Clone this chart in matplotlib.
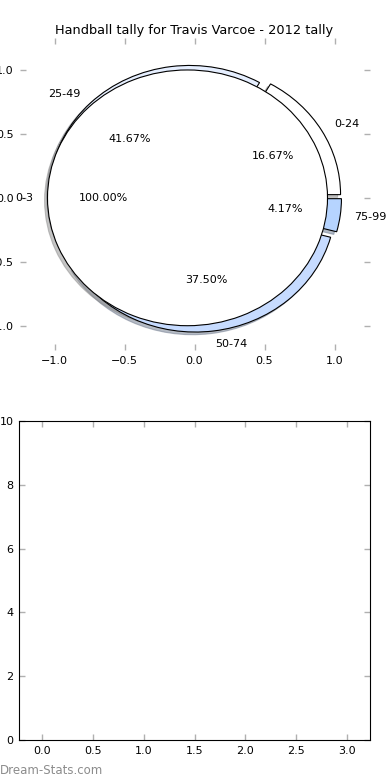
#!/usr/bin/env python3
"""
Handball tally chart (pie + empty bar panel)
"""

import matplotlib
matplotlib.use('Agg')  # Non-interactive backend
import matplotlib.pyplot as plt

# Daten
TITLE = "Handball tally for Travis Varcoe - 2012 tally"
RANGES = ['0-24', '25-49', '50-74', '75-99']
TALLY = [4, 10, 9, 1]
RANGE_COLORS = ['#ffffff', '#e6efff', '#c6dbff', '#b6d4ff']

INNER_LABELS = ['0-3']
INNER_TALLY = [1]
INNER_COLORS = ['#ffffff']

PIE_TICKS = [-1.0, -0.5, 0.0, 0.5, 1.0]
BAR_XTICKS = [0.0, 0.5, 1.0, 1.5, 2.0, 2.5, 3.0]
BAR_YTICKS = [0, 2, 4, 6, 8, 10]

W, H = 390, 780
TICK_GREY = '#b0b0b0'


def style_ticks(ax):
    ax.tick_params(direction='in', top=True, right=True, length=4, width=1,
                   color=TICK_GREY, labelsize=8, pad=4)


fig = plt.figure(figsize=(W / 100, H / 100), dpi=100, facecolor='white')

# Oben: Pie
ax1 = fig.add_axes([19.5 / W, 1 - 350 / H, 350 / W, 312 / H])
wedge_kw = dict(edgecolor='black', linewidth=0.8)
shadow_kw = dict(ox=-0.015, oy=-0.015, shade=0.45)
ax1.pie(TALLY, labels=RANGES, colors=RANGE_COLORS, explode=[0.05] * len(TALLY),
        shadow=shadow_kw, autopct='%1.2f%%', startangle=0, frame=True,
        textprops={'fontsize': 8}, wedgeprops=wedge_kw)
ax1.pie(INNER_TALLY, labels=INNER_LABELS, colors=INNER_COLORS, explode=[0.05],
        shadow=shadow_kw, autopct='%1.2f%%', startangle=0, frame=True,
        textprops={'fontsize': 8}, wedgeprops=wedge_kw)
ax1.set_aspect('auto')
ax1.set_xlim(-1.25, 1.25)
ax1.set_ylim(-1.19, 1.25)
ax1.set_xticks(PIE_TICKS)
ax1.set_yticks(PIE_TICKS)
for s in ax1.spines.values():
    s.set_visible(False)
style_ticks(ax1)
ax1.set_title(TITLE, fontsize=9.3, pad=3)

# Unten: leeres Balken-Panel
ax2 = fig.add_axes([19 / W, 1 - 740 / H, 351 / W, 319 / H])
ax2.set_xlim(-0.23, 3.23)
ax2.set_ylim(0, 10)
ax2.set_xticks(BAR_XTICKS)
ax2.set_yticks(BAR_YTICKS)
style_ticks(ax2)

fig.text(0.0, 1 - 770 / H, 'Dream-Stats.com', fontsize=8.5, color='#8c8c8c',
         ha='left', va='center')

fig.savefig('out.png', dpi=100, facecolor='white')
